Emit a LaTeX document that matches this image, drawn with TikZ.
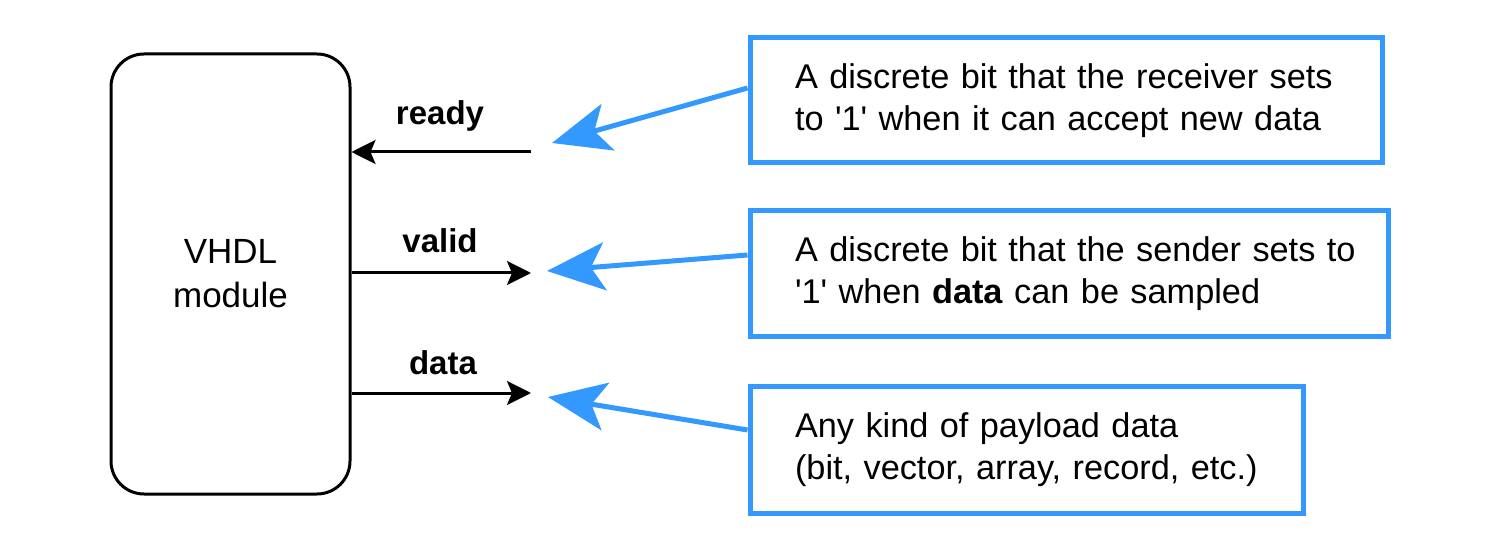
\documentclass[tikz,border=0pt]{standalone}
\usepackage{fontspec}
\setmainfont{Liberation Sans}
\usetikzlibrary{arrows.meta}
\definecolor{blu}{RGB}{51,153,255}
\newcommand{\sq}{\textquotesingle}
\begin{document}
\begin{tikzpicture}[x=1pt,y=-1pt,
 modbox/.style={draw,line width=3pt,rounded corners=33pt,minimum width=239pt,minimum height=440pt,inner sep=0pt,align=center,font=\fontsize{35}{44}\selectfont},
 note/.style={draw=blu,line width=5pt,inner xsep=45pt,inner ysep=0pt,align=left,font=\fontsize{34.3}{42}\selectfont},
 sig/.style={font=\fontsize{33}{40}\selectfont\bfseries,anchor=base,inner sep=0pt},
 sigarrow/.style={line width=3pt,-{Stealth[length=24pt,width=24pt,inset=5pt]}},
 callout/.style={draw=blu,line width=5pt,-{Stealth[length=58pt,width=48pt,inset=14pt]}}]
\useasboundingbox[fill=white] (0,0) rectangle (1500,548);
\node[modbox] (m) at (230.5,274) {VHDL\\module};
\node[note,text width=542pt,minimum height=125pt] (n1) at (1066,100.5) {\mbox{A discrete bit that the receiver sets}\\\mbox{to \sq1\sq{} when it can accept new data}};
\node[note,text width=548pt,minimum height=125pt] (n2) at (1069,273.5) {\mbox{A discrete bit that the sender sets to}\\\mbox{\sq1\sq{} when \textbf{data} can be sampled}};
\node[note,text width=463pt,minimum height=127pt] (n3) at (1026.5,449.5) {\mbox{Any kind of payload data}\\\mbox{(bit, vector, array, record, etc.)}};
\node[sig] (lr) at (440,125) {ready};
\node[sig] (lv) at (440,253) {valid};
\node[sig] (ld) at (443,374) {data};
\coordinate (r) at (531,152);
\coordinate (v) at (531,273);
\coordinate (d) at (531,393);
\draw[sigarrow] (r) -- (m.east |- r);
\draw[sigarrow] (m.east |- v) -- (v);
\draw[sigarrow] (m.east |- d) -- (d);
\coordinate (t1) at (552,143);
\coordinate (t2) at (547,271);
\coordinate (t3) at (548,397);
\draw[callout] ([yshift=12.5pt]n1.west) -- (t1);
\draw[callout] ([yshift=18.5pt]n2.west) -- (t2);
\draw[callout] ([yshift=19.5pt]n3.west) -- (t3);
\end{tikzpicture}
\end{document}
